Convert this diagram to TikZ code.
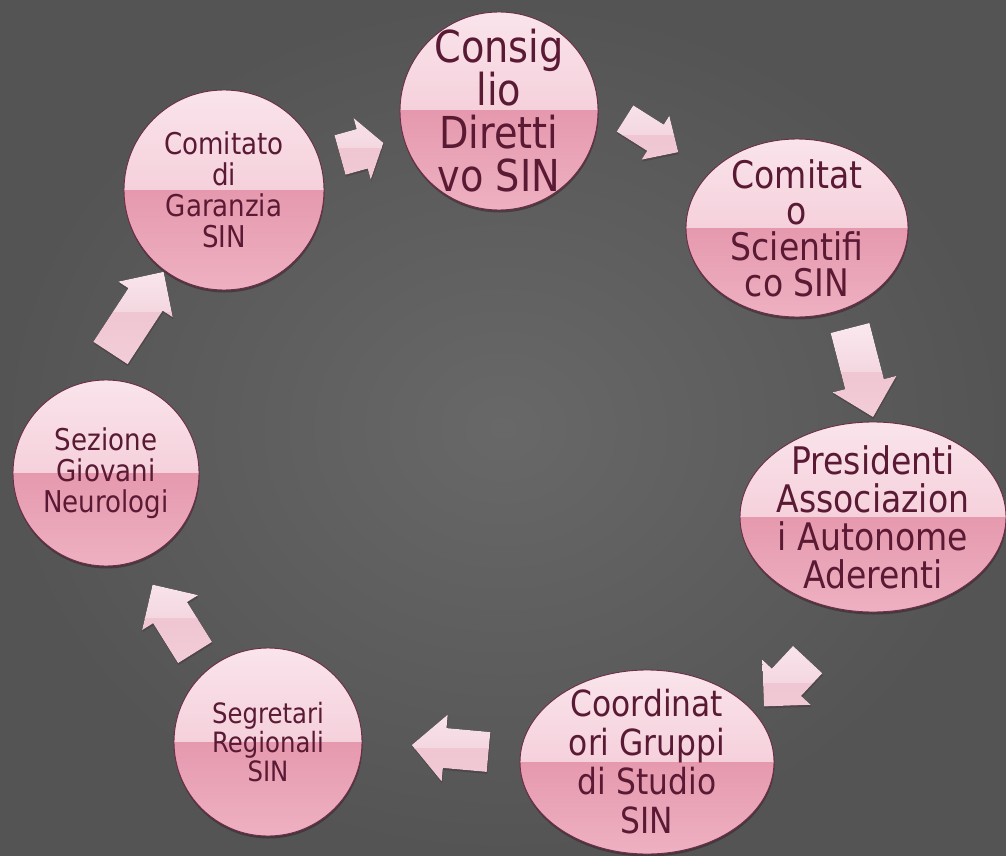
\documentclass[tikz,border=0pt]{standalone}
\usepackage{fontspec}
\newfontfamily\tah[FakeStretch=0.87]{DejaVu Sans}
\usetikzlibrary{shapes.geometric,calc,shadows}

\definecolor{bgin}{HTML}{686868}
\definecolor{bgout}{HTML}{545454}
\definecolor{pkA}{HTML}{FAE4EB}
\definecolor{pkB}{HTML}{F0BDCC}
\definecolor{pkC}{HTML}{E699AE}
\definecolor{pkD}{HTML}{EEB1C2}
\definecolor{pkline}{HTML}{6E2E49}
\definecolor{txtc}{HTML}{5A1A34}
\definecolor{arA}{HTML}{FDF0F4}
\definecolor{arB}{HTML}{F4D7E0}
\definecolor{arC}{HTML}{EFC6D2}
\definecolor{arD}{HTML}{F3D0DA}
\definecolor{shc}{HTML}{3A2229}

\tikzset{
  bubble/.style={draw=pkline, line width=0.9pt, inner sep=0pt,
    drop shadow={shadow xshift=0.5pt, shadow yshift=-2.5pt, fill=shc, opacity=0.55},
    path picture={
      \fill[top color=pkA, bottom color=pkB]
        (path picture bounding box.north west) rectangle (path picture bounding box.east);
      \fill[top color=pkC, bottom color=pkD]
        (path picture bounding box.west) rectangle (path picture bounding box.south east);
    }},
  lbl/.style={text=txtc, align=center, inner sep=0pt},
}

\newcommand{\blockarrow}[8]{%
  \begin{scope}[shift={(#2,#3)},rotate=#4]
    \coordinate (#1-1) at (0,{#6/2});
    \coordinate (#1-2) at ({#5-#8},{#6/2});
    \coordinate (#1-3) at ({#5-#8},{#7/2});
    \coordinate (#1-4) at (#5,0);
    \coordinate (#1-5) at ({#5-#8},{-#7/2});
    \coordinate (#1-6) at ({#5-#8},{-#6/2});
    \coordinate (#1-7) at (0,{-#6/2});
    \coordinate (#1-m) at ({#5/2},0);
  \end{scope}
  \fill[shc, opacity=0.3, transform canvas={xshift=0.5pt,yshift=-2pt}]
    (#1-1)--(#1-2)--(#1-3)--(#1-4)--(#1-5)--(#1-6)--(#1-7)--cycle;
  \begin{scope}
    \clip (#1-1)--(#1-2)--(#1-3)--(#1-4)--(#1-5)--(#1-6)--(#1-7)--cycle;
    \fill[top color=arA, bottom color=arB] ($(#1-m)+(-70,-70)$) rectangle ($(#1-m)+(70,0)$);
    \fill[top color=arC, bottom color=arD] ($(#1-m)+(-70,0)$) rectangle ($(#1-m)+(70,70)$);
  \end{scope}
}

\begin{document}
\begin{tikzpicture}[x=1pt, y=-1pt]
\useasboundingbox (0,0) rectangle (1006,856);
\fill[inner color=bgin, outer color=bgout] (0,0) rectangle (1006,856);

% nodes
\node[bubble, circle, minimum size=198pt] (cons) at (499,111) {};
\node[bubble, ellipse, minimum width=222pt, minimum height=178pt] (sci) at (797,228) {};
\node[bubble, ellipse, minimum width=266pt, minimum height=190pt] (pres) at (873,517) {};
\node[bubble, ellipse, minimum width=254pt, minimum height=184pt] (coord) at (647,762) {};
\node[bubble, circle, minimum size=188pt] (segr) at (268,742) {};
\node[bubble, circle, minimum size=186pt] (sez) at (106,473) {};
\node[bubble, circle, minimum size=200pt] (gar) at (224,190) {};

% texts
\node[lbl, font=\tah\fontsize{44}{43}\selectfont] (cons-t) at (cons) {Consig\\lio\\Diretti\\vo SIN};
\node[lbl, font=\tah\fontsize{38}{36}\selectfont] (sci-t) at (sci) {Comitat\\o\\Scientifi\\co SIN};
\node[lbl, font=\tah\fontsize{38}{38}\selectfont] (pres-t) at (pres) {Presidenti\\Associazion\\i Autonome\\Aderenti};
\node[lbl, font=\tah\fontsize{36}{39}\selectfont] (coord-t) at (coord) {Coordinat\\ori Gruppi\\di Studio\\SIN};
\node[lbl, font=\tah\fontsize{28}{29}\selectfont] (segr-t) at (segr) {Segretari\\Regionali\\SIN};
\node[lbl, font=\tah\fontsize{30}{31}\selectfont] (sez-t) at (sez) {Sezione\\Giovani\\Neurologi};
\node[lbl, font=\tah\fontsize{30}{31}\selectfont] (gar-t) at (gar) {Comitato\\di\\Garanzia\\SIN};

% block arrows: name, tail x, tail y, angle, length, body width, head width, head length
\blockarrow{a1}{340}{155}{15.6}{45}{41}{64}{22}
\blockarrow{a2}{625}{118.5}{-32.3}{63}{31}{52}{27}
\blockarrow{a3}{850}{328}{-75.5}{92}{40}{66}{34}
\blockarrow{a4}{807.6}{659.6}{-133}{64}{40}{66}{33}
\blockarrow{a5}{488.5}{752}{174.8}{77}{40}{67}{33}
\blockarrow{a6}{195}{652.5}{122}{80}{40}{66}{33}
\blockarrow{a7}{110.5}{353}{56.8}{97}{41}{65}{33}
\end{tikzpicture}
\end{document}
